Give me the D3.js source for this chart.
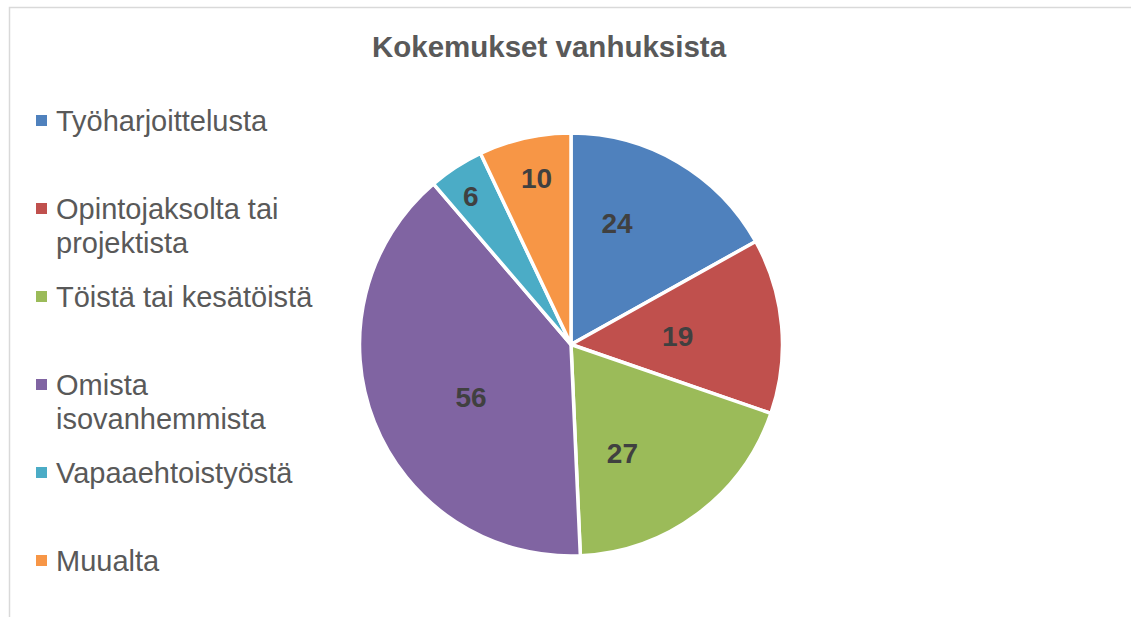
<!DOCTYPE html>
<html>
<head>
<meta charset="utf-8">
<script src="https://cdn.jsdelivr.net/npm/d3@7"></script>
<style>
  body { margin: 0; background: #fff; }
  svg text { font-family: "Liberation Sans", Arial, sans-serif; }
</style>
</head>
<body>
<div id="chart"></div>
<script>
// data
var categories = ["Työharjoittelusta", "Opintojaksolta tai projektista", "Töistä tai kesätöistä",
                  "Omista isovanhemmista", "Vapaaehtoistyöstä", "Muualta"];
var values = [24, 19, 27, 56, 6, 10];
var colors = ["#4F81BD", "#C0504D", "#9BBB59", "#8064A2", "#4BACC6", "#F79646"];
var legendLines = [["Työharjoittelusta"], ["Opintojaksolta tai", "projektista"], ["Töistä tai kesätöistä"],
                   ["Omista", "isovanhemmista"], ["Vapaaehtoistyöstä"], ["Muualta"]];
var title = "Kokemukset vanhuksista";

var width = 1131, height = 617;
var cx = 571, cy = 344.5, radius = 211.5;

// label placement tweaks (Excel "best fit" style): angle shift in degrees, distance from centre
var labelShift = [-9.7, 0.6, 11.4, -6.3, -1.1, 1.0];
var labelDist = [130, 107, 120, 113, 179, 170];

var svg = d3.select("#chart").append("svg")
    .attr("width", width)
    .attr("height", height);

// chart frame
svg.append("path")
    .attr("d", "M9.5," + height + "V7.5H" + width)
    .attr("fill", "none")
    .attr("stroke", "#d9d9d9")
    .attr("stroke-width", 1.5);

svg.append("text")
    .attr("x", 549)
    .attr("y", 57)
    .attr("text-anchor", "middle")
    .style("font-size", "29.5px")
    .style("font-weight", "bold")
    .style("fill", "#595959")
    .text(title);

var pie = d3.pie().sort(null).value(function(d) { return d; });
var arcs = pie(values);

var arc = d3.arc().innerRadius(0).outerRadius(radius);

var g = svg.append("g")
    .attr("transform", "translate(" + cx + "," + cy + ")");

g.selectAll(".slice")
    .data(arcs)
  .enter().append("path")
    .attr("class", "slice")
    .attr("d", arc)
    .attr("fill", function(d, i) { return colors[i]; })
    .attr("stroke", "#fff")
    .attr("stroke-width", 3.5)
    .attr("stroke-linejoin", "round");

g.selectAll(".lbl")
    .data(arcs)
  .enter().append("text")
    .attr("class", "lbl")
    .attr("x", function(d, i) {
      var a = (d.startAngle + d.endAngle) / 2 + labelShift[i] * Math.PI / 180;
      return Math.sin(a) * labelDist[i];
    })
    .attr("y", function(d, i) {
      var a = (d.startAngle + d.endAngle) / 2 + labelShift[i] * Math.PI / 180;
      return -Math.cos(a) * labelDist[i] + 10;
    })
    .attr("text-anchor", "middle")
    .style("font-size", "28px")
    .style("font-weight", "bold")
    .style("fill", "#404040")
    .text(function(d) { return d.data; });

// legend
var legendY = d3.scalePoint()
    .domain(categories)
    .range([131, 571]);

var item = svg.selectAll(".legend")
    .data(categories)
  .enter().append("g")
    .attr("class", "legend")
    .attr("transform", function(d) { return "translate(36," + legendY(d) + ")"; });

item.append("rect")
    .attr("x", 0)
    .attr("y", -16)
    .attr("width", 11)
    .attr("height", 11)
    .attr("fill", function(d, i) { return colors[i]; });

item.append("text")
    .attr("x", 20)
    .style("font-size", "29px")
    .style("fill", "#595959")
    .each(function(d, i) {
      var t = d3.select(this);
      legendLines[i].forEach(function(line, j) {
        t.append("tspan")
          .attr("x", 20)
          .attr("y", j * 34)
          .text(line);
      });
    });
</script>
</body>
</html>
